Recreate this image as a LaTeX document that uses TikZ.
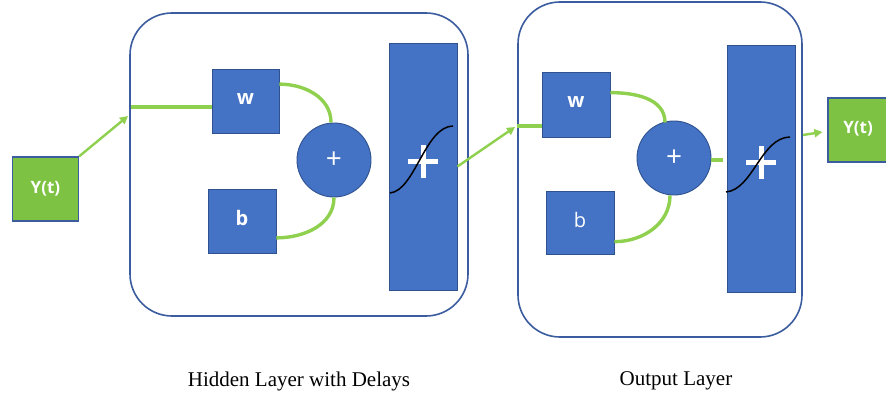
\documentclass[tikz,border=0pt]{standalone}
\usepackage{fontspec}
\setmainfont{Liberation Serif}
\newfontfamily\boxfont{Open Sans}
\usetikzlibrary{arrows.meta,calc}
\definecolor{nblue}{HTML}{4472C4}
\definecolor{nborder}{HTML}{2F528F}
\definecolor{lborder}{HTML}{3B5C9E}
\definecolor{ygreen}{HTML}{7DC242}
\definecolor{lgreen}{HTML}{8FD14F}
\tikzset{
  layer/.style={draw=lborder, line width=1.6pt, rounded corners=42pt, inner sep=0pt},
  wbox/.style={draw=nborder, fill=nblue, line width=0.9pt, inner sep=0pt, text=white,
    font=\boxfont\bfseries\fontsize{20}{22}\selectfont},
  sumc/.style={circle, draw=nborder, fill=nblue, line width=0.9pt, inner sep=0pt,
    minimum size=74pt, text=white, font=\boxfont\fontsize{28}{30}\selectfont},
  actbar/.style={draw=nborder, fill=nblue, line width=0.9pt, inner sep=0pt,
    minimum width=68pt, minimum height=247pt},
  ybox/.style={draw=lborder, fill=ygreen, line width=1.2pt, inner sep=0pt, text=white,
    minimum width=66pt, minimum height=64pt, font=\boxfont\bfseries\fontsize{17}{20}\selectfont},
  conn/.style={draw=lgreen, line width=3.4pt},
  arr/.style={draw=lgreen, line width=2.4pt, -{Triangle[length=8pt,width=8pt]}},
  sig/.style={draw=black, line width=1.5pt},
  plusbar/.style={draw=white, line width=5pt},
  captext/.style={font=\fontsize{21}{25}\selectfont, text=black}
}
\begin{document}
\begin{tikzpicture}[x=1pt,y=-1pt]
\useasboundingbox (0,0) rectangle (886,398);
\clip (0,0) rectangle (886,398);
\fill[white] (0,0) rectangle (886,398);

% layers
\node[layer, minimum width=338pt, minimum height=303pt] (hid) at (299,164.5) {};
\node[layer, minimum width=284pt, minimum height=335pt] (outl) at (660,169.5) {};

% input
\node[ybox] (yin) at (45.5,189) {\raisebox{4pt}{Y(t)}};

% hidden layer contents
\node[wbox, minimum width=67pt, minimum height=64pt] (w1) at (245.5,101) {\raisebox{4pt}{w}};
\node[wbox, minimum width=68pt, minimum height=64pt] (b1) at (242,221) {\raisebox{6pt}{b}};
\node[sumc] (c1) at (334,160) {\raisebox{-4pt}{+}};
\node[actbar] (t1) at (423,166.5) {};

% output layer contents
\node[wbox, minimum width=68pt, minimum height=65pt] (w2) at (576,104.5) {\raisebox{4pt}{w}};
\node[wbox, minimum width=68pt, minimum height=63pt, font=\boxfont\fontsize{20}{22}\selectfont] (b2) at (580,222.5) {\raisebox{6pt}{b}};
\node[sumc] (c2) at (674,158) {\raisebox{-4pt}{+}};
\node[actbar] (t2) at (761,168.5) {};

% output
\node[ybox] (yout) at (861,130) {\hspace*{-6pt}\raisebox{5pt}{Y(t)}};

% coordinates for free ends
\coordinate (hin) at (128,116);
\coordinate (hline) at (131,107);
\coordinate (oin) at (515,127);
\coordinate (oline) at (517,126);
\coordinate (oout) at (803,135);

% connectors
\draw[arr] (yin.north east) -- (hin);
\draw[conn] (hline) -- (w1.west |- hline);
\draw[conn] ($(w1.north east)!0.24!(w1.south east)$) to[out=0,in=90] ($(c1.north)+(-3,0)$);
\draw[conn] ($(b1.north east)!0.76!(b1.south east)$) to[out=0,in=-90] (c1.south);
\draw[arr] (t1.east) -- (oin);
\draw[conn] (oline) -- (w2.west |- oline);
\draw[conn] ($(w2.north east)!0.32!(w2.south east)$) to[out=0,in=90] ($(c2.north)+(-9,2)$);
\draw[conn] ($(b2.north east)!0.8!(b2.south east)$) to[out=0,in=-90] ($(c2.south)+(-4,0)$);
\draw[conn, shorten >=4pt] ($(c2.east)+(0,2)$) -- (t2.west |- 0,160);
\draw[arr] (oout) -- ([xshift=-5pt,yshift=-2pt]yout.west);

% plus signs and sigmoids inside activation bars
\draw[plusbar] ($(t1.center)+(-15,-4.5)$) -- ($(t1.center)+(15,-4.5)$);
\draw[plusbar] ($(t1.center)+(0,-21)$) -- ($(t1.center)+(0,12)$);
\draw[sig] ($(t1.center)+(-33,26.5)$) .. controls ($(t1.center)+(-8,24)$) and ($(t1.center)+(2,-40)$) .. ($(t1.center)+(30,-40.5)$);

\draw[plusbar] ($(t2.center)+(-15,-5.5)$) -- ($(t2.center)+(15,-5.5)$);
\draw[plusbar] ($(t2.center)+(0,-22)$) -- ($(t2.center)+(0,11)$);
\draw[sig] ($(t2.center)+(-35,23.5)$) .. controls ($(t2.center)+(-8,21)$) and ($(t2.center)+(0,-31)$) .. ($(t2.center)+(29,-31.5)$);

% captions
\node[captext] (caph) at (299,381) {Hidden Layer with Delays};
\node[captext] (capo) at (676,381) {Output Layer};
\end{tikzpicture}
\end{document}
